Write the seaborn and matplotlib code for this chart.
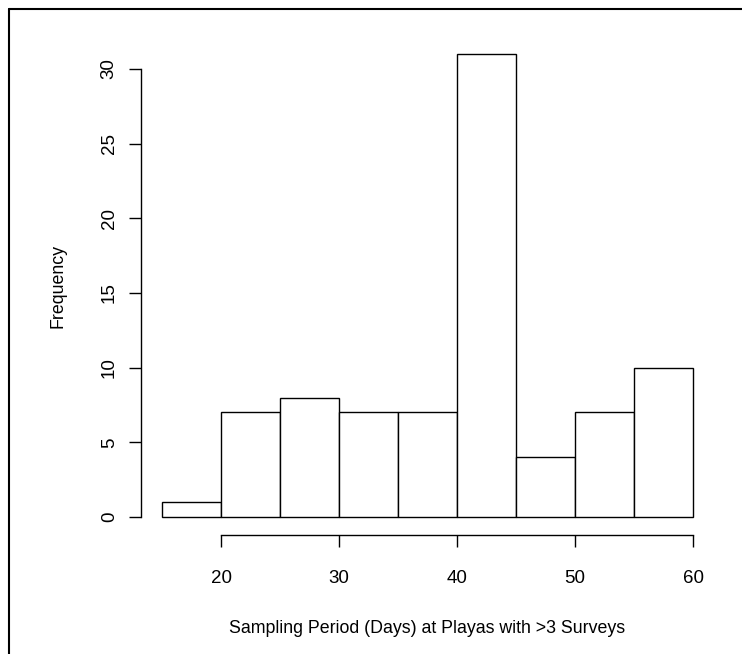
import matplotlib
matplotlib.use("Agg")
import matplotlib.pyplot as plt
import seaborn as sns
from matplotlib.lines import Line2D

bin_edges = [15, 20, 25, 30, 35, 40, 45, 50, 55, 60]
counts = [1, 7, 8, 7, 7, 31, 4, 7, 10]
x_ticks = [20, 30, 40, 50, 60]
y_ticks = [0, 5, 10, 15, 20, 25, 30]
x_label = "Sampling Period (Days) at Playas with >3 Surveys"
y_label = "Frequency"

sns.set_theme(style="ticks")
plt.rcParams['font.family'] = ['Liberation Sans', 'DejaVu Sans']

mids = [(bin_edges[i] + bin_edges[i + 1]) / 2 for i in range(len(counts))]

fig = plt.figure(figsize=(7.42, 6.54), dpi=100)
ax = fig.add_axes([0.1898, 0.1812, 0.7728, 0.7644])
sns.histplot(x=mids, weights=counts, bins=bin_edges, ax=ax,
             color="white", edgecolor="black", linewidth=1.0, alpha=1)

fs_tick = 13.5
fs_lab = 12.8
ax.set_xlim(13.2, 61.8)
ax.set_ylim(-1.24, 32.24)
ax.set_xticks(x_ticks)
ax.set_yticks(y_ticks)
ax.set_yticklabels([str(v) for v in y_ticks], rotation=90, va="center")
ax.tick_params(axis="both", length=8.6, width=1.0, color="black",
               labelsize=fs_tick, labelcolor="black")
ax.tick_params(axis="x", pad=16)
ax.tick_params(axis="y", pad=8)
for s in ["top", "right"]:
    ax.spines[s].set_visible(False)
ax.spines["left"].set_bounds(0, 30)
ax.spines["bottom"].set_bounds(20, 60)
for s in ["left", "bottom"]:
    ax.spines[s].set_color("black")
    ax.spines[s].set_linewidth(1.0)
ax.set_xlabel(x_label, fontsize=fs_lab, color="black", va="center")
ax.set_ylabel(y_label, fontsize=fs_lab, color="black", va="center")
ax.xaxis.set_label_coords(0.5, -0.186)
ax.yaxis.set_label_coords(-0.1444, 0.5)

W, H = 742, 654
fig.add_artist(Line2D([9 / W, 9 / W], [0, 1 - 9 / H], transform=fig.transFigure,
                      color="black", linewidth=1.5))
fig.add_artist(Line2D([9 / W, 1], [1 - 9 / H, 1 - 9 / H], transform=fig.transFigure,
                      color="black", linewidth=1.5))

fig.savefig("out.png", dpi=100)
